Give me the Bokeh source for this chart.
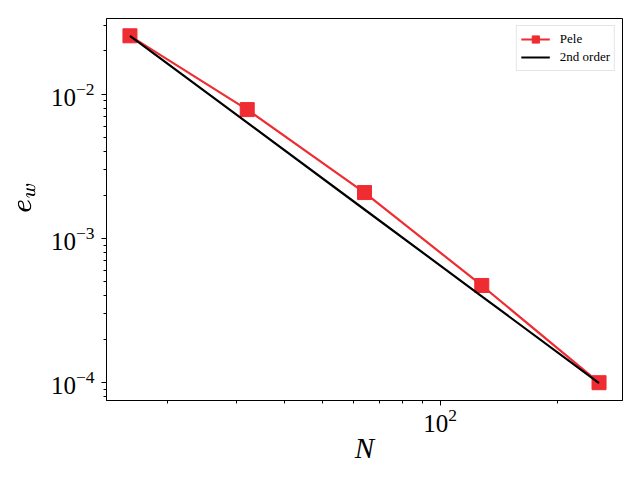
import math
from bokeh.plotting import figure
from bokeh.models import Range1d, FixedTicker, Legend, LegendItem
from bokeh.embed import file_html
from bokeh.resources import INLINE

# data
N = [16, 32, 64, 128, 256]
e_w = [0.0254, 0.00782, 0.00208, 0.000472, 0.000100]
order2 = [0.0254, 0.00635, 0.0015875, 0.000397, 0.0000992]

x_major = [100]
x_minor = [20, 30, 40, 50, 60, 70, 80, 90, 200]
y_major = [1e-4, 1e-3, 1e-2]
y_minor = [8e-5, 9e-5] + [k * 1e-4 for k in range(2, 10)] + [k * 1e-3 for k in range(2, 10)] + [2e-2, 3e-2]

x0, x1 = 16 / 2 ** 0.2, 256 * 2 ** 0.2
y0, y1 = 9.92e-5 / 10 ** 0.12, 0.0254 * 10 ** 0.12

SERIF = "Liberation Serif"
RED = "#EE2C31"

p = figure(width=632, height=472, x_axis_type="log", y_axis_type="log",
           x_range=Range1d(x0, x1), y_range=Range1d(y0, y1),
           output_backend="svg", toolbar_location=None,
           min_border_left=106, min_border_right=10, min_border_top=18, min_border_bottom=72)
p.grid.visible = False
p.outline_line_color = "black"
p.outline_line_width = 1
p.background_fill_color = "white"
p.border_fill_color = "white"

for ax, maj, mnr in ((p.xaxis[0], x_major, x_minor), (p.yaxis[0], y_major, y_minor)):
    ax.ticker = FixedTicker(ticks=maj, minor_ticks=mnr)
    ax.axis_line_color = "black"
    ax.major_tick_line_color = "black"
    ax.minor_tick_line_color = "black"
    ax.major_tick_out = 5
    ax.major_tick_in = 0
    ax.minor_tick_out = 3
    ax.minor_tick_in = 0
    ax.major_label_text_font = SERIF
    ax.major_label_text_font_size = "25px"
    ax.major_label_text_color = "black"
    ax.axis_label_text_color = "black"
    ax.axis_label_text_font = SERIF

p.xaxis.major_label_standoff = 3
p.yaxis.major_label_standoff = 7
p.xaxis.axis_label = "N"
p.xaxis.axis_label_text_font_style = "italic"
p.xaxis.axis_label_text_font_size = "29px"
p.xaxis.axis_label_standoff = -3
p.yaxis.axis_label = r"$$\;\;\;e_w$$"
p.yaxis.axis_label_text_font_size = "28px"
p.yaxis.axis_label_standoff = -1

r_line = p.line(N, e_w, line_color=RED, line_width=2.2)
r_sq = p.scatter(N, e_w, marker="square", size=14, fill_color=RED, line_color=RED)
r_o2 = p.line(N, order2, line_color="black", line_width=2.2)

legend = Legend(items=[LegendItem(label="Pele", renderers=[r_line, r_sq]),
                       LegendItem(label="2nd order", renderers=[r_o2])],
                location="top_right", margin=7, padding=4, spacing=0,
                glyph_width=29, glyph_height=18, label_height=18, label_standoff=10,
                label_text_font=SERIF, label_text_font_size="13px", label_text_color="black",
                border_line_color="#cccccc", border_line_width=1,
                background_fill_color="white", background_fill_alpha=0.8)
p.add_layout(legend)

open("out.html", "w").write(file_html(p, INLINE))
